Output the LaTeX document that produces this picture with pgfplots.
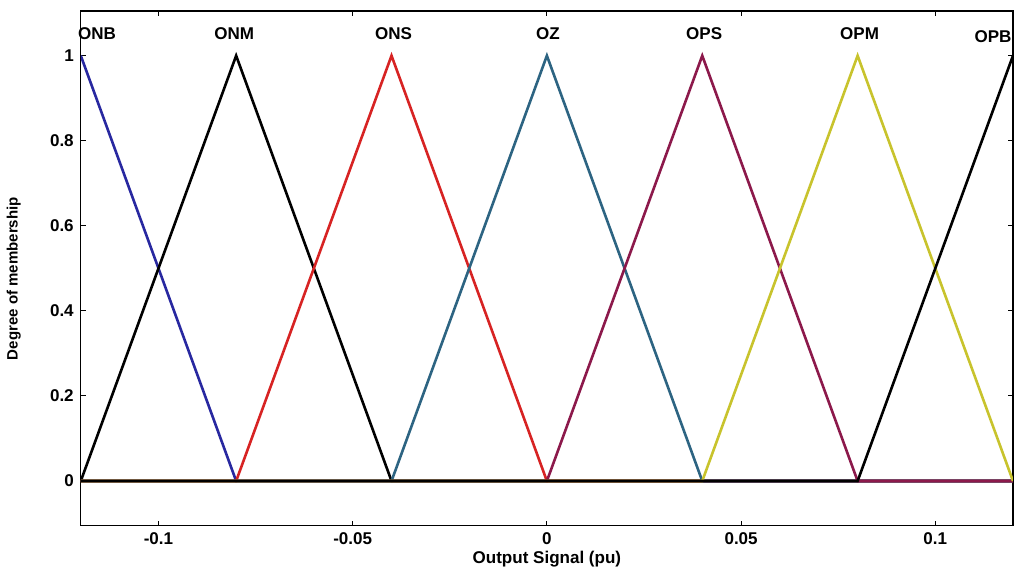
\documentclass[border=0pt]{standalone}
\usepackage{fontspec}
\setmainfont{Liberation Sans}
\usepackage{pgfplots}
\pgfplotsset{compat=1.18}
\definecolor{mfblue}{RGB}{40,40,160}
\definecolor{mfred}{RGB}{215,35,35}
\definecolor{mfteal}{RGB}{45,100,130}
\definecolor{mfmaroon}{RGB}{140,25,75}
\definecolor{mfyellow}{RGB}{200,195,45}
\begin{document}
\begin{tikzpicture}
\begin{axis}[
  name=ax,
  scale only axis,
  width=465.5pt, height=257pt,
  xmin=-0.12, xmax=0.12,
  ymin=-0.105, ymax=1.105,
  xtick={-0.1,-0.05,0,0.05,0.1},
  xticklabels={-0.1,-0.05,0,0.05,0.1},
  ytick={0,0.2,0.4,0.6,0.8,1},
  yticklabels={0,0.2,0.4,0.6,0.8,1},
  tick align=inside,
  major tick length=2.5pt,
  tick style={black, line width=0.5pt},
  axis line style={line width=0.6pt},
  font=\fontsize{8.5}{10}\selectfont\bfseries,
  ticklabel style={font=\fontsize{8.5}{10}\selectfont\bfseries},
  xlabel={Output Signal (pu)},
  ylabel={Degree of membership},
  xlabel style={at={(axis description cs:0.5,0)}, anchor=center, yshift=-16.5pt, font=\fontsize{8.5}{10}\selectfont\bfseries},
  ylabel style={at={(axis description cs:0,0.48)}, anchor=center, yshift=33.5pt, font=\fontsize{7.5}{9}\selectfont\bfseries},
  every axis plot/.append style={line width=1.3pt, line join=miter},
  clip=true,
]
\addplot[mfblue] coordinates {(-0.12,1) (-0.08,0) (0.12,0)};
\addplot[black] coordinates {(-0.12,0) (-0.08,1) (-0.04,0) (0.12,0)};
\addplot[mfred] coordinates {(-0.12,0) (-0.08,0) (-0.04,1) (0,0) (0.12,0)};
\addplot[mfteal] coordinates {(-0.12,0) (-0.04,0) (0,1) (0.04,0) (0.12,0)};
\addplot[mfmaroon] coordinates {(-0.12,0) (0,0) (0.04,1) (0.08,0) (0.12,0)};
\addplot[mfyellow] coordinates {(-0.12,0) (0.04,0) (0.08,1) (0.12,0)};
\addplot[black] coordinates {(-0.12,0) (0.08,0) (0.12,1)};
\end{axis}
\path (ax.north west) ++(0,5.5pt) coordinate (tl);
\path (ax.south east) ++(2pt,0) coordinate (br);
\begin{axis}[
  scale only axis, width=465.5pt, height=257pt,
  xmin=-0.12, xmax=0.12, ymin=-0.105, ymax=1.105,
  hide axis, clip=false,
]
\node[font=\fontsize{8.5}{10}\selectfont\bfseries, anchor=west, inner sep=0pt] at (axis cs:-0.1208,1.052) {ONB};
\node[font=\fontsize{8.5}{10}\selectfont\bfseries, inner sep=0pt] at (axis cs:-0.0805,1.052) {ONM};
\node[font=\fontsize{8.5}{10}\selectfont\bfseries, inner sep=0pt] at (axis cs:-0.0395,1.052) {ONS};
\node[font=\fontsize{8.5}{10}\selectfont\bfseries, inner sep=0pt] at (axis cs:0.0003,1.052) {OZ};
\node[font=\fontsize{8.5}{10}\selectfont\bfseries, inner sep=0pt] at (axis cs:0.0405,1.052) {OPS};
\node[font=\fontsize{8.5}{10}\selectfont\bfseries, inner sep=0pt] at (axis cs:0.0805,1.052) {OPM};
\node[font=\fontsize{8.5}{10}\selectfont\bfseries, anchor=west, inner sep=0pt, overlay] at (axis cs:0.1100,1.045) {OPB};
\end{axis}
\useasboundingbox (current bounding box.south west) rectangle (br |- tl);
\end{tikzpicture}
\end{document}
